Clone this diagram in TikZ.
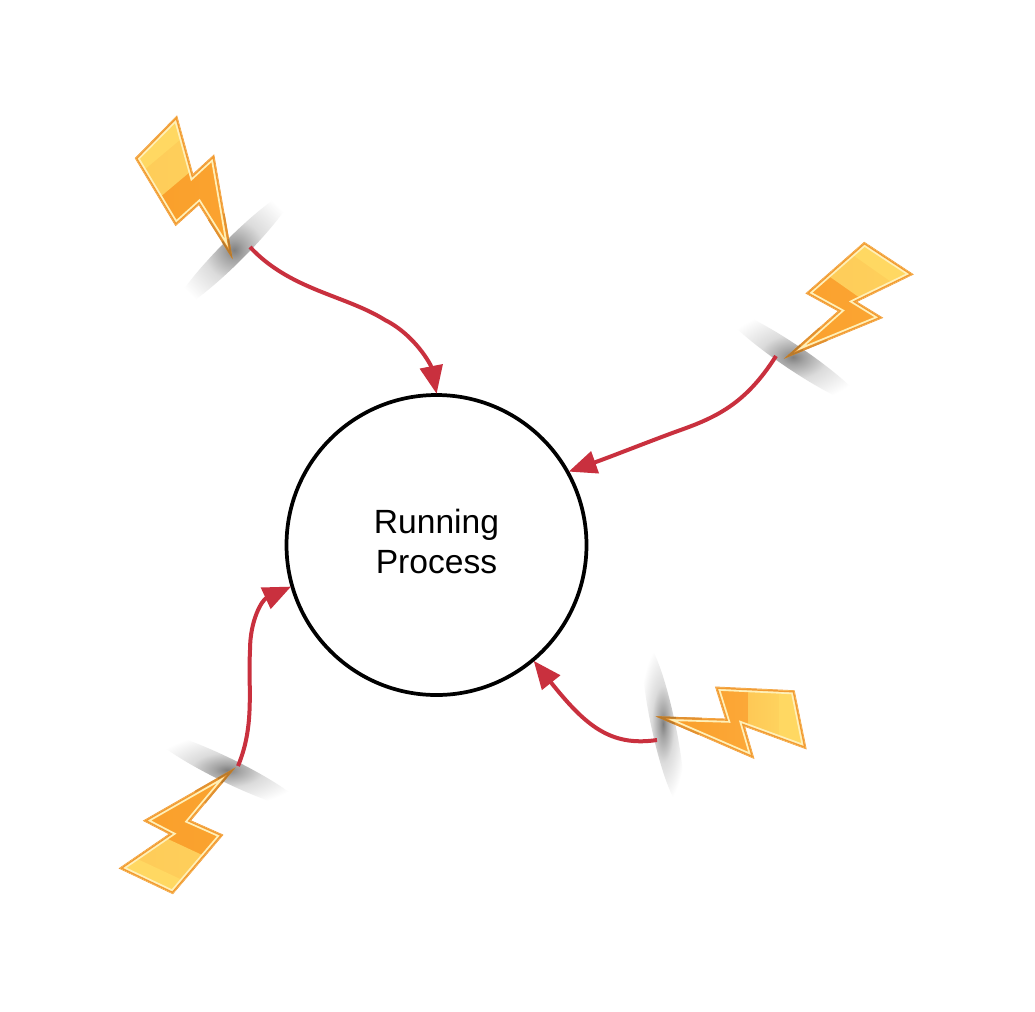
\documentclass[tikz,border=0pt]{standalone}
\usepackage{fontspec}
\setmainfont{Liberation Sans}
\usetikzlibrary{arrows.meta}
\definecolor{redline}{HTML}{C9303E}
\definecolor{bdr}{HTML}{F29B33}
\definecolor{cream}{HTML}{FFF0B8}
\definecolor{tipc}{HTML}{B97A2C}
\definecolor{orA}{HTML}{F8981F}
\definecolor{orB}{HTML}{FDAC3E}
\definecolor{yeA}{HTML}{FDC352}
\definecolor{yeB}{HTML}{FFD862}
\pgfdeclareradialshading{glow}{\pgfpoint{0bp}{0bp}}{color(0bp)=(black!50); color(4bp)=(black!36); color(12bp)=(black!14); color(25bp)=(white); color(50bp)=(white)}
\tikzset{
  x=0.75pt,y=-0.75pt,
  conn/.style={draw=redline,line width=3pt,-{Triangle[length=21pt,width=17pt]},shorten >=-0.5pt},
  procnode/.style={circle,draw=black,line width=2.8pt,minimum size=300*0.75pt,inner sep=0pt},
  proctext/.style={align=center,inner sep=0pt,font=\fontsize{25.2}{30}\selectfont}
}
% #1 polygon path, #2 boundary point, #3 angle toward the head, #4 tip, #5 shadow centre, #6 shadow half length, #7 shadow angle
\newcommand\boltshape[7]{
  \begin{scope}[shift={(#5)},rotate=#7]
    \shade[shading=glow] (0,0) ellipse [x radius=1.414*#6,y radius=12];
  \end{scope}
  \draw[bdr,line width=1.1pt,line join=miter] #1;
  \begin{scope}
    \clip #1;
    \begin{scope}[shift={(#2)},rotate=#3]
      \shade[left color=orA,right color=orB] (-130,-250) rectangle (30,250);
      \begin{scope}
        \clip (0,-250) rectangle (300,250);
        \shade[left color=yeA,right color=yeB] (-16,-250) rectangle (48,250);
        \fill[yeB] (31,-250) rectangle (300,250);
      \end{scope}
    \end{scope}
    \draw[cream,line width=5pt,line join=miter] #1;
    \draw[bdr,line width=2.2pt,line join=miter] #1;
  \end{scope}
  \begin{scope}
    \clip (#4) circle (42);
    \draw[bdr!70!tipc,line width=1.3pt,line join=miter] #1;
  \end{scope}
  \begin{scope}
    \clip (#4) circle (16);
    \draw[tipc,line width=1.3pt,line join=miter] #1;
  \end{scope}
}
\begin{document}
\begin{tikzpicture}
\useasboundingbox (0,0) rectangle (1035,1011);
\fill[white] (0,0) rectangle (1035,1011);
\node[procnode] (proc) at (436.5,545) {};
\node[proctext] (proclabel) at (436.5,541) {Running\\Process};
\coordinate (s1) at (250,247);
\coordinate (s2) at (776,356);
\coordinate (s3) at (657,740);
\coordinate (s4) at (238,766);
\coordinate (m1) at (385,320);
\coordinate (m2) at (675,432);
\coordinate (m4) at (250,650);
\boltshape{(176.7,116.7) -- (135.7,158.3) -- (175.7,225) -- (199,204) -- (231,255) -- (213.7,155.7) -- (192.7,175) -- cycle}{178,182}{130}{231,255}{234,250}{58}{45}
\boltshape{(864.3,242.7) -- (912.3,274.3) -- (855.7,301.7) -- (881.7,317.7) -- (788.3,356) -- (839,311) -- (806.7,293.3) -- cycle}{843,286}{55}{788.3,356}{793,357}{58}{-34}
\boltshape{(660,717.3) -- (753.3,757.7) -- (744,725.7) -- (805.7,748.3) -- (794,691) -- (716,687.3) -- (726,719.3) -- cycle}{748,710}{0}{660,717.3}{663,724}{58}{-78}
\boltshape{(231.7,770.7) -- (144.3,820.7) -- (170,834) -- (120,868.3) -- (172.7,893.3) -- (222.3,835) -- (190,820.7) -- cycle}{185,847}{245}{231.7,770.7}{227,770}{58}{-26}
\draw[conn] (s1) .. controls (290,290) and (345,295) .. (m1) .. controls (415,335) and (431,365) .. (proc.north);
\draw[conn] (s2) .. controls (745,405) and (715,418) .. (m2) .. controls (640,445) and (610,457) .. (proc.29);
\draw[conn] (s3) .. controls (610,747) and (585,725) .. (proc.-50);
\draw[conn] (s4) .. controls (255,725) and (248,690) .. (m4) .. controls (250,620) and (262,600) .. (proc.196);
\end{tikzpicture}
\end{document}
